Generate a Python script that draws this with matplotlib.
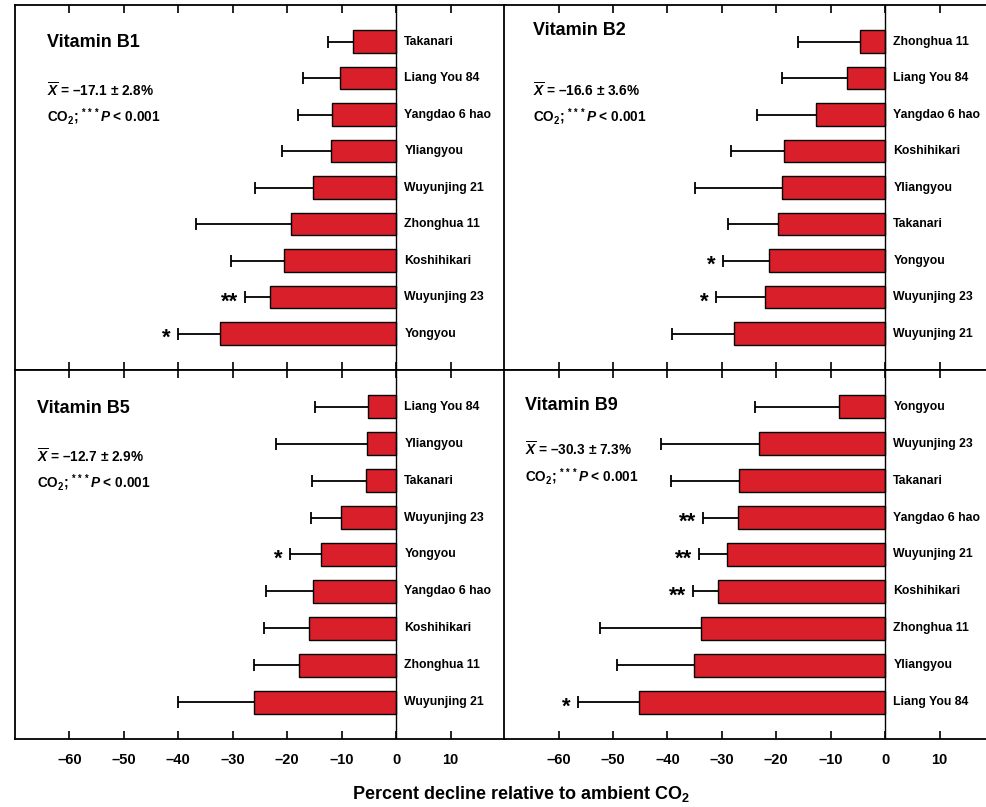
import matplotlib
matplotlib.use("Agg")
import matplotlib.pyplot as plt
import numpy as np

plt.rcParams['font.family'] = ['Liberation Sans', 'DejaVu Sans']
plt.rcParams['mathtext.fontset'] = 'custom'
plt.rcParams['mathtext.rm'] = 'Liberation Sans:bold'
plt.rcParams['mathtext.it'] = 'Liberation Sans:italic:bold'
plt.rcParams['mathtext.bf'] = 'Liberation Sans:bold'

# datos (de arriba hacia abajo)
b1_names = ['Takanari', 'Liang You 84', 'Yangdao 6 hao', 'Yliangyou', 'Wuyunjing 21',
            'Zhonghua 11', 'Koshihikari', 'Wuyunjing 23', 'Yongyou']
b1_vals = [-8.0, -10.4, -11.7, -11.9, -15.3, -19.4, -20.6, -23.2, -32.4]
b1_err = [4.6, 6.7, 6.3, 9.1, 10.6, 17.3, 9.7, 4.5, 7.7]
b1_stars = ['', '', '', '', '', '', '', '**', '*']

b2_names = ['Zhonghua 11', 'Liang You 84', 'Yangdao 6 hao', 'Koshihikari', 'Yliangyou',
            'Takanari', 'Yongyou', 'Wuyunjing 23', 'Wuyunjing 21']
b2_vals = [-4.7, -7.0, -12.7, -18.6, -19.0, -19.6, -21.4, -22.1, -27.7]
b2_err = [11.4, 12.0, 10.9, 9.8, 16.0, 9.2, 8.4, 9.0, 11.5]
b2_stars = ['', '', '', '', '', '', '*', '*', '']

b5_names = ['Liang You 84', 'Yliangyou', 'Takanari', 'Wuyunjing 23', 'Yongyou',
            'Yangdao 6 hao', 'Koshihikari', 'Zhonghua 11', 'Wuyunjing 21']
b5_vals = [-5.2, -5.4, -5.6, -10.1, -13.8, -15.2, -16.0, -17.9, -26.1]
b5_err = [9.7, 16.6, 9.9, 5.5, 5.7, 8.7, 8.3, 8.2, 13.9]
b5_stars = ['', '', '', '', '*', '', '', '', '']

b9_names = ['Yongyou', 'Wuyunjing 23', 'Takanari', 'Yangdao 6 hao', 'Wuyunjing 21',
            'Koshihikari', 'Zhonghua 11', 'Yliangyou', 'Liang You 84']
b9_vals = [-8.4, -23.2, -26.8, -27.1, -29.0, -30.8, -33.8, -35.2, -45.3]
b9_err = [15.6, 17.9, 12.6, 6.3, 5.2, 4.5, 18.6, 14.1, 11.2]
b9_stars = ['', '', '', '**', '**', '**', '', '', '*']

panels = [
    ('Vitamin B1', r'$\overline{X}$ = –17.1 ± 2.8%', b1_names, b1_vals, b1_err, b1_stars,
     [0.0152, 0.5415, 0.4965, 0.4523], (0.065, 0.896), (0.065, 0.767, 0.693)),
    ('Vitamin B2', r'$\overline{X}$ = –16.6 ± 3.6%', b2_names, b2_vals, b2_err, b2_stars,
     [0.5107, 0.5415, 0.4965, 0.4523], (0.059, 0.93), (0.059, 0.767, 0.693)),
    ('Vitamin B5', r'$\overline{X}$ = –12.7 ± 2.9%', b5_names, b5_vals, b5_err, b5_stars,
     [0.0152, 0.0843, 0.4965, 0.4572], (0.044, 0.896), (0.044, 0.765, 0.694)),
    ('Vitamin B9', r'$\overline{X}$ = –30.3 ± 7.3%', b9_names, b9_vals, b9_err, b9_stars,
     [0.5107, 0.0843, 0.4965, 0.4572], (0.043, 0.904), (0.043, 0.784, 0.71)),
]

ticks = [-60, -50, -40, -30, -20, -10, 0, 10]
tick_labels = ['–60', '–50', '–40', '–30', '–20', '–10', '0', '10']
red = '#d9202a'

fig = plt.figure(figsize=(9.87, 8.07), dpi=100)

for i, (title, mean_txt, names, vals, err, stars, pos, tpos, mpos) in enumerate(panels):
    ax = fig.add_axes(pos)
    y = np.arange(len(names))
    vals = np.array(vals)
    err = np.array(err)
    ax.barh(y, vals, height=0.62, color=red, edgecolor='black', linewidth=1.0, zorder=2)
    # error solo hacia la izquierda
    ax.hlines(y, vals - err, vals, color='black', linewidth=1.3, zorder=1)
    ax.plot(vals - err, y, linestyle='none', marker='|', markersize=9, markeredgewidth=1.3,
            color='black', zorder=1)
    for k in range(len(names)):
        ax.text(1.5, y[k], names[k], ha='left', va='center', fontsize=8.8, fontweight='bold')
        if stars[k]:
            ax.text(vals[k] - err[k] - 1.3, y[k] + 0.13, stars[k], ha='right', va='center',
                    fontsize=16, fontweight='bold')
    ax.axvline(0, color='black', linewidth=1.0, zorder=3)
    ax.set_xlim(-70, 20)
    ax.set_ylim(9, -1)
    ax.set_yticks([])
    ax.set_xticks(ticks)
    ax.tick_params(axis='x', direction='in', top=True, bottom=True, length=6, width=1.2)
    if i >= 2:
        ax.set_xticklabels(tick_labels, fontsize=10.5, fontweight='bold')
        ax.tick_params(axis='x', pad=10)
    else:
        ax.set_xticklabels([])
    for s in ax.spines.values():
        s.set_linewidth(1.3)
    ax.text(tpos[0], tpos[1], title, transform=ax.transAxes, ha='left', va='center',
            fontsize=13, fontweight='bold')
    ax.text(mpos[0], mpos[1], mean_txt, transform=ax.transAxes, ha='left', va='center',
            fontsize=9.8, fontweight='bold')
    ax.text(mpos[0], mpos[2], r'CO$_2$; $^{***}\mathit{P}$ < 0.001', transform=ax.transAxes,
            ha='left', va='center', fontsize=9.8, fontweight='bold')

fig.text(0.528, 0.004, r'Percent decline relative to ambient CO$_2$', ha='center', va='bottom',
         fontsize=13, fontweight='bold')

fig.savefig('out.png', dpi=100)
